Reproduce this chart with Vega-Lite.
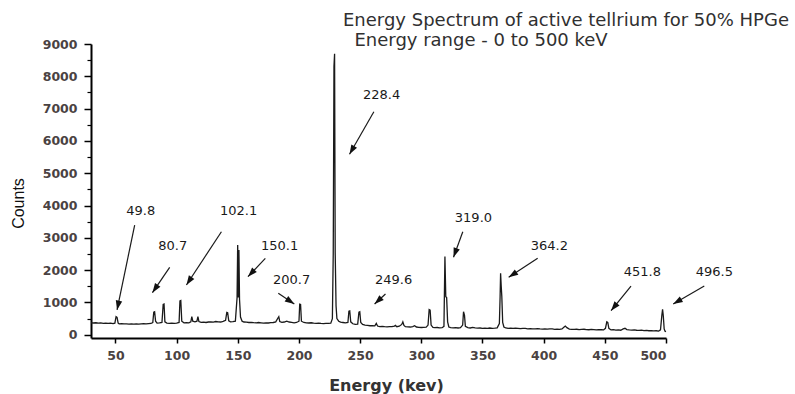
{
  "$schema": "https://vega.github.io/schema/vega-lite/v6.json",
  "width": 575,
  "height": 294,
  "autosize": "none",
  "padding": {"left": 91, "top": 44, "right": 129, "bottom": 56},
  "background": "white",
  "title": {
    "text": "Energy Spectrum of active tellrium for 50% HPGe",
    "subtitle": "\u200b\u00a0\u00a0Energy range - 0 to 500 keV",
    "anchor": "start",
    "frame": "group",
    "dx": 252,
    "offset": -12,
    "font": "DejaVu Sans",
    "fontSize": 18,
    "fontWeight": "normal",
    "color": "#303030",
    "subtitleFont": "DejaVu Sans",
    "subtitleFontSize": 18,
    "subtitleColor": "#303030",
    "subtitlePadding": 2
  },
  "config": {"view": {"stroke": null}},
  "datasets": {
    "spectrum": [
      {"e":30,"c":370},{"e":32,"c":365},{"e":34,"c":372},{"e":36,"c":360},{"e":38,"c":368},{"e":40,"c":355},{"e":42,"c":362},{"e":44,"c":350},{"e":46,"c":358},{"e":48,"c":345},{"e":49.5,"c":360},{"e":50.5,"c":560},{"e":51.3,"c":540},{"e":52.2,"c":360},{"e":53,"c":340},{"e":55,"c":345},{"e":57,"c":335},{"e":59,"c":340},{"e":61,"c":328},{"e":63,"c":335},{"e":65,"c":330},{"e":67,"c":338},{"e":69,"c":330},{"e":71,"c":336},{"e":73,"c":342},{"e":75,"c":335},{"e":77,"c":345},{"e":79,"c":350},{"e":80.5,"c":380},{"e":81.3,"c":700},{"e":82,"c":714},{"e":82.8,"c":420},{"e":84,"c":360},{"e":86,"c":365},{"e":88,"c":380},{"e":89,"c":940},{"e":89.7,"c":952},{"e":90.4,"c":400},{"e":92,"c":360},{"e":94,"c":355},{"e":96,"c":362},{"e":98,"c":350},{"e":100,"c":360},{"e":102,"c":380},{"e":102.7,"c":1050},{"e":103.4,"c":1060},{"e":104.2,"c":420},{"e":106,"c":370},{"e":108,"c":375},{"e":110,"c":370},{"e":111.6,"c":400},{"e":112.4,"c":560},{"e":113.2,"c":420},{"e":115,"c":400},{"e":116.6,"c":420},{"e":117.4,"c":560},{"e":118.2,"c":410},{"e":120,"c":385},{"e":122,"c":390},{"e":124,"c":380},{"e":126,"c":395},{"e":128,"c":400},{"e":130,"c":390},{"e":132,"c":410},{"e":134,"c":400},{"e":136,"c":395},{"e":138,"c":415},{"e":140,"c":450},{"e":141,"c":690},{"e":141.7,"c":680},{"e":142.6,"c":430},{"e":144,"c":400},{"e":146,"c":405},{"e":148,"c":420},{"e":149.4,"c":1150},{"e":149.9,"c":2780},{"e":150.4,"c":1150},{"e":150.9,"c":2620},{"e":151.4,"c":1100},{"e":152.2,"c":550},{"e":153.5,"c":420},{"e":155,"c":395},{"e":157,"c":390},{"e":159,"c":380},{"e":161,"c":385},{"e":163,"c":375},{"e":165,"c":370},{"e":167,"c":380},{"e":169,"c":370},{"e":171,"c":360},{"e":173,"c":370},{"e":175,"c":365},{"e":177,"c":375},{"e":179,"c":380},{"e":181,"c":400},{"e":182.8,"c":520},{"e":183.5,"c":560},{"e":184.3,"c":410},{"e":186,"c":385},{"e":188,"c":395},{"e":190,"c":420},{"e":192,"c":395},{"e":194,"c":385},{"e":196,"c":370},{"e":198,"c":380},{"e":200,"c":420},{"e":200.6,"c":950},{"e":201.3,"c":940},{"e":202,"c":420},{"e":204,"c":380},{"e":206,"c":370},{"e":208,"c":365},{"e":210,"c":372},{"e":212,"c":360},{"e":214,"c":355},{"e":216,"c":362},{"e":218,"c":350},{"e":220,"c":348},{"e":222,"c":355},{"e":224,"c":350},{"e":226,"c":360},{"e":227.3,"c":500},{"e":228,"c":2500},{"e":228.6,"c":8300},{"e":229.1,"c":8700},{"e":229.6,"c":2550},{"e":230.3,"c":900},{"e":231,"c":500},{"e":232.5,"c":420},{"e":234,"c":390},{"e":236,"c":380},{"e":238,"c":370},{"e":240,"c":380},{"e":240.8,"c":730},{"e":241.5,"c":740},{"e":242.3,"c":400},{"e":244,"c":340},{"e":246,"c":320},{"e":248,"c":330},{"e":249,"c":700},{"e":249.7,"c":714},{"e":250.5,"c":380},{"e":252,"c":320},{"e":254,"c":300},{"e":256,"c":290},{"e":258,"c":280},{"e":260,"c":285},{"e":262,"c":275},{"e":263.2,"c":350},{"e":264.2,"c":270},{"e":266,"c":255},{"e":268,"c":260},{"e":270,"c":250},{"e":272,"c":245},{"e":274,"c":255},{"e":276,"c":250},{"e":278,"c":270},{"e":278.8,"c":290},{"e":280,"c":250},{"e":282,"c":265},{"e":284,"c":320},{"e":284.9,"c":400},{"e":285.8,"c":290},{"e":287,"c":250},{"e":289,"c":245},{"e":291,"c":240},{"e":293,"c":255},{"e":294.5,"c":280},{"e":296,"c":240},{"e":298,"c":230},{"e":300,"c":225},{"e":302,"c":230},{"e":304,"c":235},{"e":305.5,"c":300},{"e":306.4,"c":780},{"e":307.2,"c":760},{"e":308,"c":300},{"e":309.5,"c":230},{"e":311,"c":220},{"e":313,"c":225},{"e":315,"c":215},{"e":317,"c":220},{"e":318.5,"c":260},{"e":319.3,"c":2420},{"e":320,"c":1180},{"e":320.7,"c":1150},{"e":321.5,"c":400},{"e":322.5,"c":240},{"e":324,"c":220},{"e":326,"c":215},{"e":328,"c":222},{"e":330,"c":210},{"e":332,"c":218},{"e":333.8,"c":300},{"e":334.5,"c":714},{"e":335.3,"c":600},{"e":336,"c":260},{"e":338,"c":220},{"e":340,"c":210},{"e":342,"c":230},{"e":344,"c":215},{"e":346,"c":205},{"e":348,"c":210},{"e":350,"c":200},{"e":352,"c":205},{"e":354,"c":198},{"e":356,"c":210},{"e":358,"c":200},{"e":360,"c":205},{"e":362,"c":215},{"e":363.8,"c":350},{"e":364.4,"c":1180},{"e":364.8,"c":1900},{"e":365.3,"c":1510},{"e":365.8,"c":1180},{"e":366.5,"c":380},{"e":367.5,"c":240},{"e":369,"c":210},{"e":371,"c":200},{"e":373,"c":205},{"e":375,"c":195},{"e":377,"c":205},{"e":379,"c":200},{"e":381,"c":190},{"e":383,"c":200},{"e":385,"c":195},{"e":387,"c":185},{"e":389,"c":190},{"e":391,"c":180},{"e":393,"c":185},{"e":395,"c":190},{"e":397,"c":180},{"e":399,"c":175},{"e":401,"c":180},{"e":403,"c":175},{"e":405,"c":185},{"e":407,"c":180},{"e":409,"c":170},{"e":411,"c":175},{"e":413,"c":170},{"e":415,"c":180},{"e":416.5,"c":230},{"e":417.7,"c":270},{"e":419,"c":220},{"e":421,"c":175},{"e":423,"c":170},{"e":425,"c":165},{"e":427,"c":170},{"e":429,"c":160},{"e":431,"c":165},{"e":433,"c":170},{"e":435,"c":160},{"e":437,"c":155},{"e":439,"c":165},{"e":441,"c":160},{"e":443,"c":150},{"e":445,"c":160},{"e":447,"c":155},{"e":449,"c":150},{"e":450.5,"c":200},{"e":451.6,"c":400},{"e":452.4,"c":380},{"e":453.3,"c":200},{"e":455,"c":150},{"e":457,"c":160},{"e":459,"c":145},{"e":461,"c":150},{"e":463,"c":140},{"e":465,"c":180},{"e":466.5,"c":200},{"e":468,"c":160},{"e":470,"c":150},{"e":472,"c":145},{"e":474,"c":150},{"e":476,"c":140},{"e":478,"c":135},{"e":480,"c":145},{"e":482,"c":130},{"e":484,"c":135},{"e":486,"c":125},{"e":488,"c":130},{"e":490,"c":120},{"e":492,"c":125},{"e":494,"c":115},{"e":495.5,"c":150},{"e":496.6,"c":600},{"e":497.2,"c":790},{"e":497.8,"c":580},{"e":498.5,"c":180},{"e":499.2,"c":110},{"e":500,"c":100}
    ],
    "arrows": [
      {"peak":"49.8","x":65.7,"y":3397,"x2":51.3,"y2":767},
      {"peak":"80.7","x":94.3,"y":2088,"x2":80.2,"y2":1302},
      {"peak":"102.1","x":136.6,"y":3190,"x2":108.0,"y2":1540},
      {"peak":"150.1","x":172.5,"y":2367,"x2":158.3,"y2":1797},
      {"peak":"200.7","x":183.1,"y":1283,"x2":196.2,"y2":952},
      {"peak":"249.6","x":270.7,"y":1262,"x2":261.8,"y2":952},
      {"peak":"228.4","x":261.2,"y":6904,"x2":241.3,"y2":5586},
      {"peak":"319.0","x":333.9,"y":3190,"x2":326.3,"y2":2398},
      {"peak":"364.2","x":395.1,"y":2367,"x2":371.4,"y2":1779},
      {"peak":"451.8","x":471.4,"y":1509,"x2":455.1,"y2":745},
      {"peak":"496.5","x":531.3,"y":1509,"x2":505.9,"y2":952}
    ],
    "labels": [
      {"label":"49.8","x":70.6,"y":3840},
      {"label":"80.7","x":96.8,"y":2757},
      {"label":"102.1","x":150.7,"y":3840},
      {"label":"150.1","x":184.2,"y":2757},
      {"label":"200.7","x":194.0,"y":1695},
      {"label":"249.6","x":277.3,"y":1695},
      {"label":"228.4","x":267.5,"y":7421},
      {"label":"319.0","x":342.6,"y":3623},
      {"label":"364.2","x":404.7,"y":2757},
      {"label":"451.8","x":480.7,"y":1952},
      {"label":"496.5","x":539.5,"y":1952}
    ]
  },
  "resolve": {"axis": {"y": "independent"}},
  "layer": [
    {
      "data": {"name": "spectrum"},
      "mark": {"type": "line", "color": "#1a1a1a", "strokeWidth": 1.3, "interpolate": "linear"},
      "encoding": {
        "x": {
          "field": "e", "type": "quantitative",
          "scale": {"domain": [30, 500], "nice": false, "zero": false},
          "axis": {
            "title": "Energy (kev)",
            "values": [50,75,100,125,150,175,200,225,250,275,300,325,350,375,400,425,450,475,500],
            "labelExpr": "datum.value % 50 === 0 ? datum.label : ''",
            "format": "d",
            "grid": false,
            "domainColor": "#000", "domainWidth": 2,
            "tickColor": "#000", "tickWidth": 1.5, "tickSize": 5,
            "labelFont": "DejaVu Sans", "labelFontWeight": "bold", "labelFontSize": 12.5,
            "labelColor": "#4a4242", "labelPadding": 6,
            "titleFont": "DejaVu Sans", "titleFontWeight": "bold", "titleFontSize": 16,
            "titleColor": "#333333",
            "titleX": 295, "titleY": 52, "titleAlign": "center", "titleBaseline": "alphabetic"
          }
        },
        "y": {
          "field": "c", "type": "quantitative",
          "scale": {"domain": [-100, 9000], "nice": false, "zero": false},
          "axis": {
            "orient": "left",
            "title": "Counts",
            "values": [0,1000,2000,3000,4000,5000,6000,7000,8000,9000],
            "format": "d",
            "grid": false,
            "domainColor": "#000", "domainWidth": 2,
            "tickColor": "#000", "tickWidth": 1.5, "tickSize": 7,
            "labelFont": "DejaVu Sans", "labelFontWeight": "bold", "labelFontSize": 12.5,
            "labelColor": "#4a4242", "labelPadding": 7,
            "titleFont": "Liberation Sans", "titleFontWeight": "normal", "titleFontSize": 16,
            "titleColor": "#111111",
            "titleX": -73, "titleY": 159, "titleAngle": -90, "titleAlign": "center", "titleBaseline": "middle"
          }
        }
      }
    },
    {
      "data": {"name": "arrows"},
      "mark": {"type": "rule", "color": "#1a1a1a", "strokeWidth": 1.2},
      "encoding": {
        "x": {"field": "x", "type": "quantitative"},
        "y": {
          "field": "y", "type": "quantitative",
          "axis": {
            "orient": "left",
            "values": [500,1500,2500,3500,4500,5500,6500,7500,8500],
            "labels": false, "title": null, "domain": false, "grid": false,
            "tickColor": "#000", "tickWidth": 1.2, "tickSize": 4
          }
        },
        "x2": {"field": "x2"},
        "y2": {"field": "y2"}
      }
    },
    {
      "data": {"name": "arrows"},
      "transform": [
        {"calculate": "atan2((datum.x2 - datum.x) * 1.2234, (datum.y2 - datum.y) * 0.032308) * 180 / PI", "as": "ang"}
      ],
      "mark": {"type": "point", "shape": "M0,0L0.55,1.6L-0.55,1.6Z", "filled": true, "color": "#111111", "opacity": 1, "size": 140},
      "encoding": {
        "x": {"field": "x2", "type": "quantitative"},
        "y": {"field": "y2", "type": "quantitative", "axis": null},
        "angle": {"field": "ang", "type": "quantitative", "scale": null}
      }
    },
    {
      "data": {"name": "labels"},
      "mark": {"type": "text", "font": "DejaVu Sans", "fontSize": 13, "color": "#1a1a1a", "align": "center", "baseline": "middle"},
      "encoding": {
        "x": {"field": "x", "type": "quantitative"},
        "y": {"field": "y", "type": "quantitative", "axis": null},
        "text": {"field": "label"}
      }
    }
  ]
}
